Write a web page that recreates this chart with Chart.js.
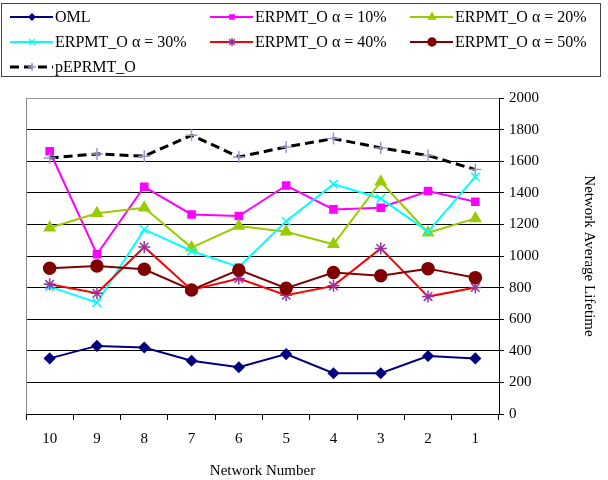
<!DOCTYPE html>
<html>
<head>
<meta charset="utf-8">
<script src="https://cdn.jsdelivr.net/npm/chart.js@4"></script>
<style>
  body { margin: 0; background: #fff; }
  #wrap { position: relative; width: 608px; height: 480px; }
</style>
</head>
<body>
<div id="wrap">
  <canvas id="chart"></canvas>
</div>
<script>
const categories = ['10', '9', '8', '7', '6', '5', '4', '3', '2', '1'];
const seriesNames = ['OML', 'ERPMT_O α = 10%', 'ERPMT_O α = 20%', 'ERPMT_O α = 30%',
                     'ERPMT_O α = 40%', 'ERPMT_O α = 50%', 'pEPRMT_O'];
const oml      = [352, 431, 421, 337, 296, 379, 258, 258, 367, 352];
const erpmt10  = [1663, 1011, 1438, 1263, 1253, 1446, 1295, 1305, 1411, 1343];
const erpmt20  = [1179, 1270, 1305, 1053, 1190, 1154, 1074, 1470, 1147, 1238];
const erpmt30  = [806, 705, 1168, 1032, 931, 1220, 1455, 1364, 1154, 1501];
const erpmt40  = [821, 764, 1057, 785, 857, 752, 811, 1048, 743, 800];
const erpmt50  = [922, 937, 916, 785, 912, 796, 895, 875, 920, 863];
const peprmt   = [1621, 1646, 1632, 1764, 1627, 1690, 1743, 1684, 1636, 1547];
const yTicks   = [0, 200, 400, 600, 800, 1000, 1200, 1400, 1600, 1800, 2000];

const family = '"Liberation Serif", "Times New Roman", serif';
const tickFont = { family: family, size: 15 };
const titleFont = { family: family, size: 15 };

// line colour, marker style, marker colour, marker size
const styles = [
  { line: '#000080', point: 'rectRot', pc: '#000080', r: 5, fill: true },
  { line: '#FF00FF', point: 'rect', pc: '#FF00FF', r: 5, fill: true },
  { line: '#99CC00', point: 'triangle', pc: '#99CC00', r: 6, fill: true },
  { line: '#00FFFF', point: 'crossRot', pc: '#00FFFF', r: 6, fill: false },
  { line: '#FF0000', point: 'star', pc: '#993399', r: 6, fill: false },
  { line: '#800000', point: 'circle', pc: '#800000', r: 6, fill: true },
  { line: '#000000', point: 'cross', pc: '#9999CC', r: 6, fill: false, dash: [9, 5], width: 3 }
];
const values = [oml, erpmt10, erpmt20, erpmt30, erpmt40, erpmt50, peprmt];

const datasets = values.map((v, i) => {
  const s = styles[i];
  return {
    label: seriesNames[i],
    data: v,
    borderColor: s.line,
    backgroundColor: s.line,
    borderWidth: s.width || 2,
    borderDash: s.dash || [],
    pointStyle: s.point,
    pointRadius: s.r,
    pointBorderColor: s.pc,
    pointBackgroundColor: s.fill ? s.pc : 'transparent',
    pointBorderWidth: 1.5,
    tension: 0,
    fill: false
  };
});
datasets.forEach((d, i) => { d.order = i === 6 ? 0 : 7 - i; });

const leftBorder = {
  id: 'leftBorder',
  beforeDatasetsDraw(chart) {
    const { ctx, chartArea: a } = chart;
    ctx.save();
    ctx.strokeStyle = '#888';
    ctx.lineWidth = 1;
    ctx.beginPath();
    ctx.moveTo(a.left + 0.5, a.top);
    ctx.lineTo(a.left + 0.5, a.bottom);
    ctx.stroke();
    ctx.restore();
  }
};

// boxed legend, three columns
const boxLegend = {
  id: 'boxLegend',
  afterDraw(chart) {
    const ctx = chart.ctx;
    const colX = [10, 210, 410];
    const rowY = [17, 42, 67];
    ctx.save();
    ctx.strokeStyle = '#444';
    ctx.lineWidth = 1;
    ctx.strokeRect(1.5, 3.5, 599, 73);
    ctx.font = '16px ' + family;
    ctx.textBaseline = 'middle';
    ctx.fillStyle = '#000';
    chart.data.datasets.forEach((d, i) => {
      const s = styles[i];
      const x = colX[i % 3];
      const y = rowY[Math.floor(i / 3)];
      ctx.strokeStyle = s.line;
      ctx.lineWidth = s.width || 2;
      ctx.setLineDash(s.dash || []);
      ctx.beginPath(); ctx.moveTo(x, y); ctx.lineTo(x + 43, y); ctx.stroke();
      ctx.setLineDash([]);
      ctx.strokeStyle = s.pc;
      ctx.fillStyle = s.fill ? s.pc : 'rgba(0,0,0,0)';
      ctx.lineWidth = 1.5;
      Chart.helpers.drawPoint(ctx, { pointStyle: s.point, radius: s.r - 2, borderWidth: 1.5, rotation: 0 }, x + 22, y);
      ctx.fillStyle = '#000';
      ctx.fillText(d.label, x + 45, y + 1);
    });
    ctx.restore();
  }
};

new Chart('chart', {
  type: 'line',
  data: { labels: categories, datasets: datasets },
  options: {
    responsive: true,
    maintainAspectRatio: false,
    animation: false,
    layout: { padding: { top: 98, left: 26, right: 0, bottom: 0 } },
    plugins: { legend: { display: false }, tooltip: { enabled: false } },
    scales: {
      x: {
        offset: true,
        afterFit: (s) => { s.height = 66; },
        grid: { offset: true, drawOnChartArea: false, drawTicks: true, tickLength: 6, color: '#000' },
        border: { color: '#000' },
        ticks: { font: tickFont, color: '#000', padding: 10 },
        title: { display: true, text: 'Network Number', font: titleFont, color: '#000', padding: { top: 16, bottom: 0 } }
      },
      y: {
        position: 'right',
        min: 0, max: 2000,
        afterFit: (s) => { s.width = 109; },
        afterBuildTicks: (s) => { s.ticks = yTicks.map(v => ({ value: v })); },
        grid: {
          color: (c) => (c.tick && c.tick.value === 2000 ? '#999' : '#000'),
          tickColor: '#000', tickLength: 5
        },
        border: { color: '#000' },
        ticks: { font: tickFont, color: '#000', padding: 5, callback: (v) => String(v) },
        title: { display: true, text: 'Network Average Lifetime', font: titleFont, color: '#000', padding: { top: 10, bottom: 4 } }
      }
    }
  },
  plugins: [leftBorder, boxLegend]
});
</script>
</body>
</html>
